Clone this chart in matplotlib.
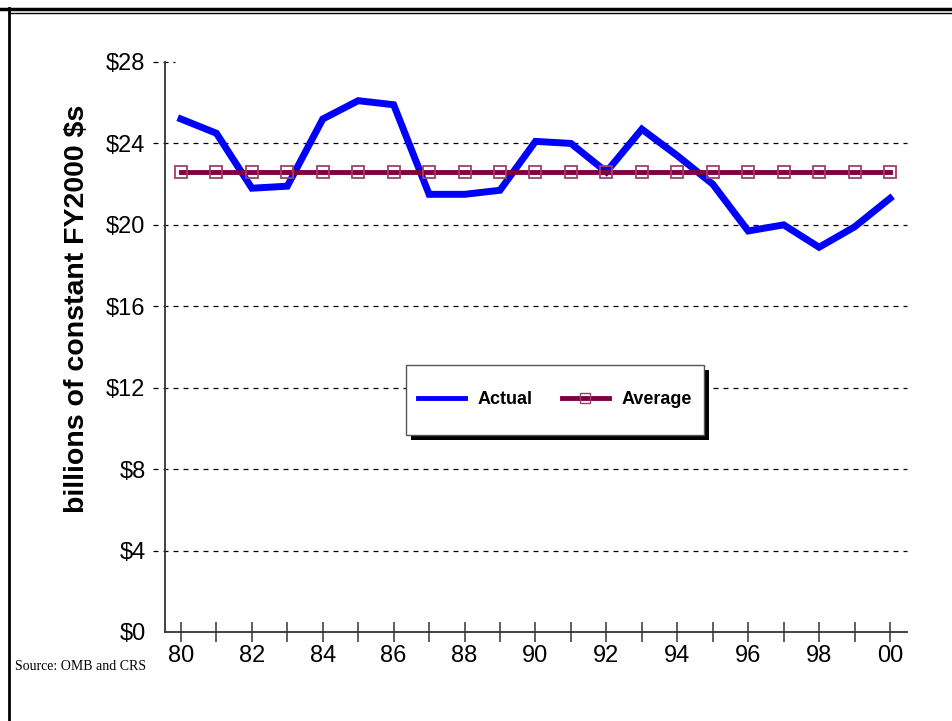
import matplotlib.pyplot as plt
from matplotlib.lines import Line2D
from matplotlib.patches import Rectangle

years = list(range(1980, 2001))
year_labels = ['80', '', '82', '', '84', '', '86', '', '88', '', '90', '',
               '92', '', '94', '', '96', '', '98', '', '00']
actual = [25.2, 24.5, 21.8, 21.9, 25.2, 26.1, 25.9, 21.5, 21.5, 21.7, 24.1,
          24.0, 22.6, 24.7, 23.4, 22.0, 19.7, 20.0, 18.9, 19.9, 21.3]
avg_value = 22.6
average = [avg_value] * len(years)
y_ticks = [0, 4, 8, 12, 16, 20, 24, 28]

blue = '#0000ff'
maroon = '#7f0040'
W, H = 952, 721

fig = plt.figure(figsize=(9.52, 7.21), dpi=100)
ax = fig.add_axes([165 / W, 89 / H, 742 / W, 570 / H])

# dashed grid lines, running a little past the y axis like in the original
for t in y_ticks[1:-1]:
    ax.plot([-0.016, 1], [t, t], transform=ax.get_yaxis_transform(),
            color='black', lw=0.9, ls=(0, (4, 4)), clip_on=False, zorder=1)
ax.plot([-0.016, 0.014], [28, 28], transform=ax.get_yaxis_transform(),
        color='black', lw=0.9, ls=(0, (4, 4)), clip_on=False, zorder=1)

ax.plot(years, actual, color=blue, lw=5, solid_joinstyle='miter', zorder=3,
        label='Actual')
ax.plot(years, average, color=maroon, lw=3.5, marker='s', ms=8,
        mfc='none', mec='#a0406a', mew=1.3, zorder=4, label='Average')

ax.set_xlim(1979.55, 2000.48)
ax.set_ylim(0, 28)
ax.set_yticks(y_ticks)
ax.set_yticklabels([f'${t}' for t in y_ticks])
ax.set_xticks(years)
ax.set_xticklabels(year_labels)
ax.tick_params(axis='y', length=0, pad=14, labelsize=17)
ax.tick_params(axis='x', direction='inout', length=14, width=1.1,
               color='#333333', labelsize=17, pad=2)
for lbl in ax.get_xticklabels() + ax.get_yticklabels():
    lbl.set_family('Liberation Sans')

for s in ['top', 'right']:
    ax.spines[s].set_visible(False)
for s in ['left', 'bottom']:
    ax.spines[s].set_color('#333333')
    ax.spines[s].set_linewidth(1.3)

ax.set_ylabel('billions of constant FY2000 $s', fontsize=20.5, fontweight='bold',
              family='Liberation Sans')
ax.yaxis.set_label_coords(-0.101, 0.567)

# legend box with a hard black shadow
fig.add_artist(Rectangle((411 / W, 1 - 440 / H), 298 / W, 70 / H,
                         transform=fig.transFigure, facecolor='black',
                         edgecolor='none', zorder=5))
fig.add_artist(Rectangle((406 / W, 1 - 435 / H), 298 / W, 70 / H,
                         transform=fig.transFigure, facecolor='white',
                         edgecolor='#555555', lw=1.0, zorder=6))
handles = [Line2D([], [], color=blue, lw=3.5),
           Line2D([], [], color=maroon, lw=3.5, marker='s', ms=7,
                  mfc='none', mec='#a0406a', mew=1)]
leg = fig.legend(handles, ['Actual', 'Average'], ncol=2, loc='center',
                 bbox_to_anchor=(555 / W, 1 - 400 / H), frameon=False,
                 handlelength=2.6, columnspacing=1.6, handletextpad=0.7,
                 prop={'family': 'Liberation Sans', 'weight': 'bold', 'size': 13})
leg.set_zorder(7)

# page frame: thick + thin line on top, line on the left
fig.add_artist(Line2D([0, 1], [1 - 9 / H, 1 - 9 / H], color='black', lw=2.5))
fig.add_artist(Line2D([9 / W, 1], [1 - 12.5 / H, 1 - 12.5 / H], color='black', lw=1))
fig.add_artist(Line2D([8.5 / W, 8.5 / W], [0, 1 - 8 / H], color='black', lw=2))

fig.text(15 / W, 1 - 667 / H, 'Source: OMB and CRS', family='Liberation Serif',
         fontsize=10, va='center', ha='left')

fig.savefig('out.png', dpi=100)
